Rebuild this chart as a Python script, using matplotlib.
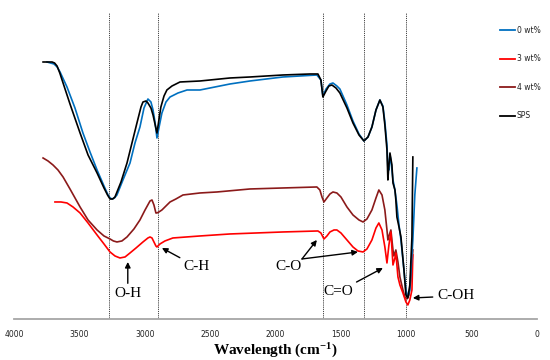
import matplotlib
matplotlib.use("Agg")
import matplotlib.pyplot as plt
from matplotlib.lines import Line2D

plt.rcParams['mathtext.fontset'] = 'custom'
plt.rcParams['mathtext.rm'] = 'Liberation Serif:bold'
plt.rcParams['mathtext.it'] = 'Liberation Serif:bold'
plt.rcParams['mathtext.bf'] = 'Liberation Serif:bold'

# ---------------- data (wavenumber cm-1, transmittance a.u.) ----------------
sps_w = [3778, 3709, 3690, 3671, 3650, 3625, 3572, 3495, 3434, 3365, 3312, 3285, 3266, 3245, 3228, 3182, 3136, 3098, 3060,
         3029, 3014, 2991, 2976, 2953, 2937, 2922, 2907, 2892, 2877, 2853, 2831, 2792, 2731, 2578,
         2349, 2196, 1944, 1737, 1676, 1653, 1638, 1614, 1592, 1569, 1538, 1508, 1454, 1408, 1362,
         1324, 1293, 1263, 1232, 1202, 1179, 1164, 1148, 1141, 1133, 1125, 1110, 1102, 1087, 1080,
         1072, 1056, 1041, 1018, 1003, 988, 973, 957, 950]
sps_t = [268, 268, 267, 264, 257, 247, 226, 197, 175, 157, 142, 135, 131, 131, 133, 148, 167, 187, 207,
         223, 228, 229, 227, 222, 215, 206, 197, 210, 223, 234, 240, 244, 248, 249,
         252, 253, 255, 256, 256, 250, 233, 239, 244, 245, 242, 237, 222, 207, 195,
         189, 193, 203, 220, 230, 223, 205, 180, 150, 165, 177, 165, 147, 140, 130,
         113, 103, 93, 60, 35, 32, 45, 93, 173]

wt0_w = [3748, 3694, 3670, 3648, 3595, 3534, 3473, 3419, 3365, 3312, 3281, 3265, 3251, 3232, 3213, 3167, 3113, 3075,
         3037, 3006, 2976, 2953, 2937, 2922, 2907, 2892, 2869, 2838, 2807, 2746, 2677, 2578, 2349,
         2196, 1944, 1684, 1653, 1638, 1614, 1584, 1561, 1531, 1508, 1454, 1408, 1362, 1324, 1293,
         1263, 1232, 1202, 1179, 1164, 1148, 1141, 1133, 1125, 1118, 1102, 1087, 1072, 1056, 1041,
         1018, 1003, 988, 973, 950, 935, 919]
wt0_t = [268, 266, 263, 258, 243, 222, 197, 178, 160, 144, 135, 132, 131, 132, 135, 150, 167, 187,
         203, 222, 231, 228, 220, 208, 192, 202, 217, 228, 233, 237, 240, 240, 246,
         249, 253, 255, 250, 234, 241, 246, 247, 244, 241, 225, 209, 196, 189, 193,
         203, 220, 230, 224, 208, 185, 162, 160, 175, 170, 150, 140, 125, 105, 90,
         60, 40, 33, 40, 90, 135, 162]

wt4_w = [3778, 3740, 3702, 3664, 3625, 3572, 3495, 3434, 3365, 3312, 3266, 3240, 3213, 3175, 3136, 3083,
         3037, 2998, 2960, 2945, 2930, 2915, 2907, 2892, 2869, 2838, 2807, 2762, 2708, 2578, 2448,
         2196, 1944, 1684, 1661, 1645, 1630, 1607, 1584, 1561, 1531, 1500, 1454, 1408, 1362, 1331,
         1301, 1263, 1232, 1210, 1186, 1164, 1148, 1141, 1133, 1118, 1102, 1095, 1080, 1064, 1049,
         1026, 1011, 995, 980, 965, 950]
wt4_t = [172, 169, 165, 160, 153, 141, 123, 110, 100, 94, 91, 89, 88, 89, 93, 101,
         110, 120, 129, 130, 125, 117, 117, 118, 120, 124, 128, 131, 135, 137, 138,
         141, 142, 143, 140, 133, 128, 132, 136, 138, 137, 133, 123, 115, 110, 108,
         111, 120, 132, 140, 135, 120, 100, 90, 94, 100, 80, 74, 80, 68, 53,
         40, 33, 31, 35, 50, 80]

wt3_w = [3687, 3641, 3595, 3549, 3495, 3434, 3365, 3312, 3266, 3228, 3190, 3151, 3113, 3067, 3014,
         2976, 2960, 2945, 2930, 2915, 2907, 2884, 2846, 2785, 2578, 2349, 1944, 1676, 1653, 1630,
         1607, 1584, 1553, 1531, 1500, 1454, 1408, 1370, 1331, 1301, 1263, 1232, 1210, 1186, 1164,
         1148, 1133, 1118, 1102, 1087, 1080, 1064, 1049, 1026, 1003, 988, 973, 957, 950]
wt3_t = [128, 128, 127, 123, 117, 107, 95, 86, 78, 74, 72, 73, 77, 82, 88,
         92, 93, 92, 88, 84, 83, 86, 89, 92, 94, 96, 98, 99, 97, 91,
         94, 98, 100, 100, 97, 90, 83, 79, 78, 81, 90, 102, 107, 100, 83,
         67, 85, 98, 65, 72, 77, 53, 45, 37, 28, 25, 30, 40, 75]

series_labels = ['0 wt%', '3 wt%', '4 wt%', 'SPS']
series_colors = ['#0070C0', '#FF0000', '#8B1A1A', '#000000']

band_positions = [3270, 2900, 1640, 1320, 1000]
xticks = [4000, 3500, 3000, 2500, 2000, 1500, 1000, 500, 0]

# ---------------- figure ----------------
fig = plt.figure(figsize=(5.5, 3.6), dpi=100)
ax = fig.add_axes([0.0255, 0.114, 0.951, 0.886])

curves = [(wt0_w, wt0_t), (wt3_w, wt3_t), (wt4_w, wt4_t), (sps_w, sps_t)]
order = [2, 1, 0, 3]
for i in order:
    w, t = curves[i]
    ax.plot(w, t, color=series_colors[i], lw=1.2, solid_joinstyle='round', zorder=3)

ax.vlines(band_positions, 12, 317, colors='#444444', linestyles=(0, (1.2, 1.0)), lw=0.7, zorder=2)

ax.set_xlim(4000, 0)
ax.set_ylim(11, 330)
ax.set_xticks(xticks)
ax.set_xticklabels([str(v) for v in xticks])
ax.set_yticks([])
ax.tick_params(axis='x', length=0, pad=8, labelsize=5.5, labelcolor='#222222')
for s in ['top', 'left', 'right']:
    ax.spines[s].set_visible(False)
ax.spines['bottom'].set_color('#A6A6A6')
ax.spines['bottom'].set_linewidth(1.3)

ax.set_xlabel(r'Wavelength (cm$^{\mathregular{-1}}$)', family='Liberation Serif',
              fontweight='bold', fontsize=11, labelpad=2)

# annotations
tfont = dict(family='Liberation Serif', fontsize=11)
ap = dict(arrowstyle='-|>', color='black', lw=1.0, mutation_scale=8, shrinkA=1, shrinkB=0)
ax.annotate('O-H', xy=(3130, 68), xytext=(3130, 36), ha='center', va='center', arrowprops=ap, **tfont)
ax.annotate('C-H', xy=(2869, 82), xytext=(2601, 63), ha='center', va='center', arrowprops=ap, **tfont)
ax.annotate('', xy=(1684, 90), xytext=(1798, 71), arrowprops=dict(ap, shrinkA=0))
ax.annotate('', xy=(1370, 78), xytext=(1798, 71), arrowprops=dict(ap, shrinkA=0))
ax.text(1898, 63, 'C-O', ha='center', va='center', **tfont)
ax.annotate('C=O', xy=(1179, 62), xytext=(1523, 38), ha='center', va='center', arrowprops=ap, **tfont)
ax.annotate('C-OH', xy=(950, 32), xytext=(766, 34), ha='left', va='center', arrowprops=ap, **tfont)

# legend
handles = [Line2D([0], [0], color=c, lw=1.3) for c in series_colors]
fig.legend(handles, series_labels, loc='upper left', bbox_to_anchor=(0.909, 0.928),
           frameon=False, fontsize=5.5, handlelength=2.0, handletextpad=0.2,
           labelspacing=2.55, borderpad=0, borderaxespad=0, labelcolor='#222222')

fig.savefig('out.png', dpi=100)
